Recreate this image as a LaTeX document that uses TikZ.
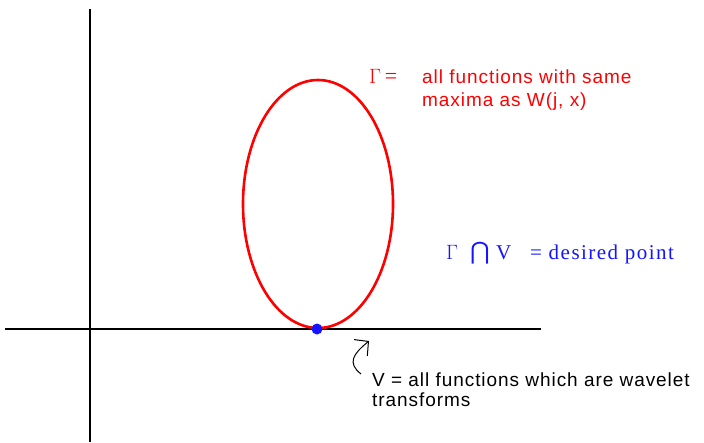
\documentclass[tikz,border=0pt]{standalone}
\usepackage{fontspec}
\setmainfont{Liberation Sans}
\newfontfamily\serifx{Liberation Serif}
\newfontfamily\serifsp[LetterSpace=7]{Liberation Serif}
\newfontfamily\sanssp[LetterSpace=5]{Liberation Sans}
\newfontfamily\symx{DejaVu Sans}
\usetikzlibrary{arrows.meta}
\definecolor{myred}{RGB}{255,0,0}
\definecolor{myblue}{RGB}{20,20,255}
\tikzset{
  axis/.style={line width=2.6pt, black},
  sans/.style={font=\sanssp\fontsize{19}{21}\selectfont, anchor=base west, inner sep=0pt},
  serifb/.style={font=\serifsp\fontsize{21}{24}\selectfont, anchor=base west, inner sep=0pt, text=myblue},
}
\begin{document}
\begin{tikzpicture}[x=1pt,y=-1pt]
\useasboundingbox (0,0) rectangle (704,442);
% axes
\coordinate (hl) at (5,329);
\coordinate (hr) at (541,329);
\coordinate (vt) at (90,9);
\coordinate (vb) at (90,442);
\draw[axis] (hl) -- (hr);
\draw[axis] (vt) -- (vb);
% ellipse
\draw[myred, line width=2.6pt] (318,204) ellipse [x radius=75, y radius=124];
\fill[myblue] (317,329) circle (5.5) coordinate (pt);
% red label
\node[sans, text=myred, font=\serifx\fontsize{22}{24}\selectfont] (gam) at (369,83) {$\Gamma$\,=};
\node[sans, text=myred] (l1) at (422,83) {all functions with same};
\node[sans, text=myred] (l2) at (422,106) {maxima as W(j, x)};
% blue label
\node[serifb, font=\serifx\fontsize{22}{24}\selectfont] (g) at (446,259) {$\Gamma$};
\node[serifb, font=\symx\fontsize{24}{24}\selectfont] (cap) at (470,259) {⋂};
\node[serifb, font=\serifx\fontsize{21}{24}\selectfont] (v) at (496,259) {V};
\node[serifb] (dp) at (530,259) {= desired point};
% bottom label
\coordinate (as) at (361,374);
\coordinate (ae) at (369,341);
\draw[line width=1pt, -{Straight Barb[length=10pt,width=21pt]}] (as) .. controls (347,363) and (353,354) .. (ae);
\node[sans] (v1) at (372,386) {V = all functions which are wavelet};
\node[sans] (v2) at (372,406) {transforms};
\end{tikzpicture}
\end{document}
